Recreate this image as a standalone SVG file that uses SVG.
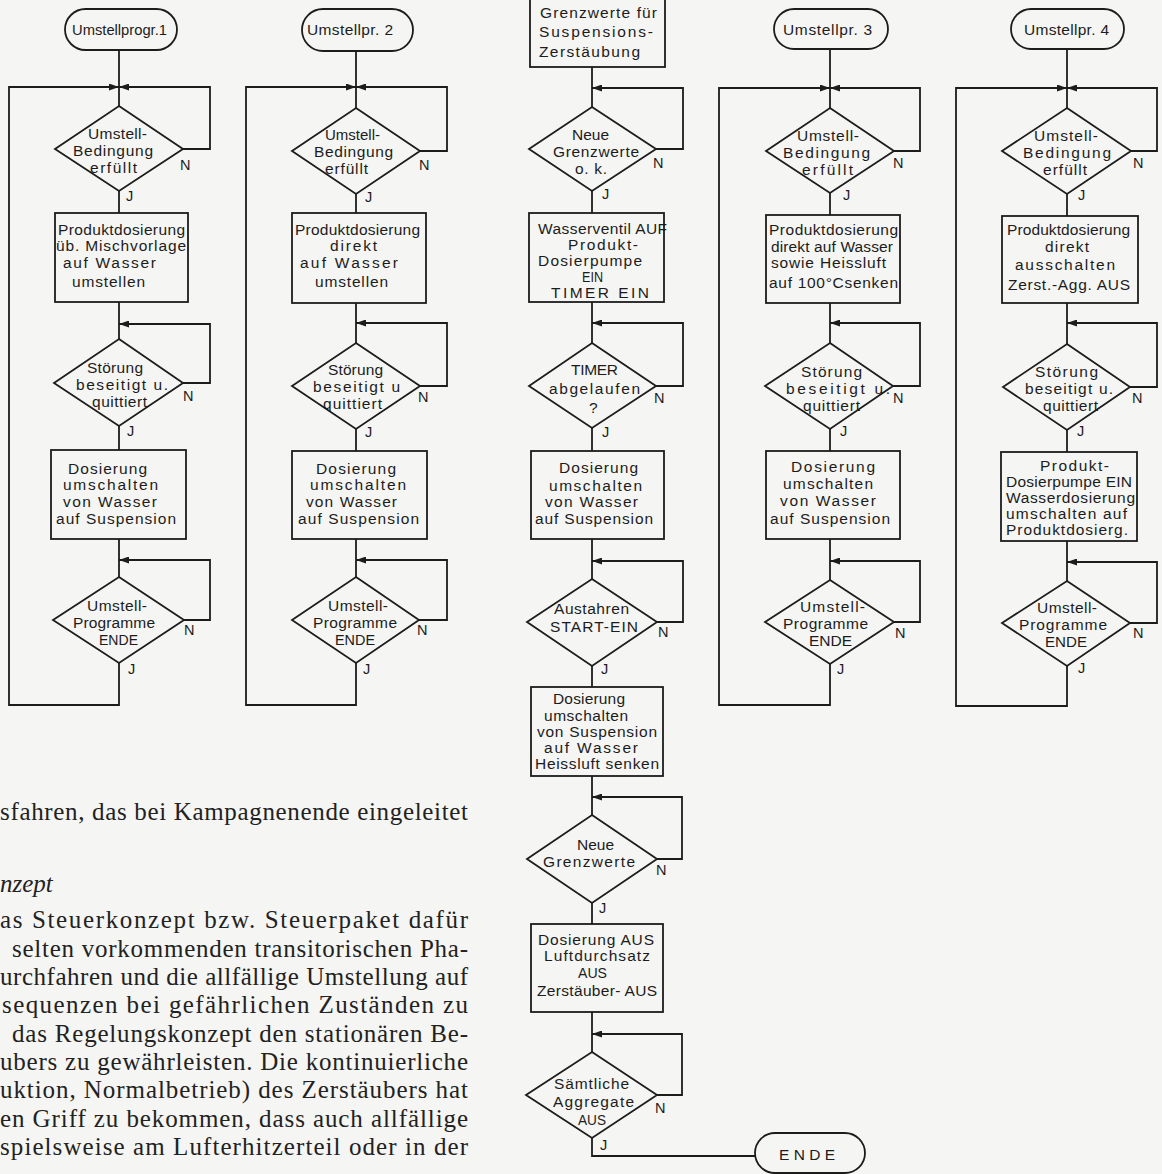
<svg xmlns="http://www.w3.org/2000/svg" width="1162" height="1174" viewBox="0 0 1162 1174">
<style>
.s{fill:none;stroke:#1c1c1c;stroke-width:1.8}
.c{fill:none;stroke:#1c1c1c;stroke-width:1.8}
.t{font-family:"Liberation Sans",Arial,sans-serif;font-size:15.5px;fill:#1c1c1c}
.l{font-family:"Liberation Sans",Arial,sans-serif;font-size:14.5px;fill:#1c1c1c}
.b{font-family:"Liberation Serif","Times New Roman",serif;font-size:25px;fill:#222}
.i{font-style:italic}
</style>
<defs>
<marker id="ah" viewBox="0 0 10 7" refX="10" refY="3.5" markerWidth="10" markerHeight="7" orient="auto" markerUnits="userSpaceOnUse"><path d="M0,0 L10,3.5 L0,7 z" fill="#1c1c1c"/></marker>
</defs>
<rect x="0" y="0" width="1162" height="1174" fill="#f5f5f3"/>

<g id="connectors">
<!-- column 1 -->
<path class="c" d="M119,50 V106"/>
<path class="c" d="M183,149 H210 V87 H119" marker-end="url(#ah)"/>
<path class="c" d="M119,191 V213"/>
<path class="c" d="M119,302 V339"/>
<path class="c" d="M183,383 H210 V324 H119" marker-end="url(#ah)"/>
<path class="c" d="M119,426 V450"/>
<path class="c" d="M119,539 V577"/>
<path class="c" d="M184,620 H210 V560 H119" marker-end="url(#ah)"/>
<path class="c" d="M119,663 V705 H9 V87 H119" marker-end="url(#ah)"/>
<!-- column 2 -->
<path class="c" d="M356,51 V108"/>
<path class="c" d="M420,151 H447 V87 H356" marker-end="url(#ah)"/>
<path class="c" d="M356,194 V213"/>
<path class="c" d="M356,303 V343"/>
<path class="c" d="M420,386 H447 V323 H356" marker-end="url(#ah)"/>
<path class="c" d="M356,429 V451"/>
<path class="c" d="M356,539 V577"/>
<path class="c" d="M419,620 H447 V560 H356" marker-end="url(#ah)"/>
<path class="c" d="M356,663 V705 H246 V87 H356" marker-end="url(#ah)"/>
<!-- middle column -->
<path class="c" d="M592,67 V107"/>
<path class="c" d="M656,149 H683 V88 H592" marker-end="url(#ah)"/>
<path class="c" d="M592,191 V213"/>
<path class="c" d="M592,302 V343"/>
<path class="c" d="M656,386 H683 V323 H592" marker-end="url(#ah)"/>
<path class="c" d="M592,428 V451"/>
<path class="c" d="M592,539 V579"/>
<path class="c" d="M657,622 H683 V561 H592" marker-end="url(#ah)"/>
<path class="c" d="M592,666 V687"/>
<path class="c" d="M592,776 V815"/>
<path class="c" d="M657,859 H682 V797 H592" marker-end="url(#ah)"/>
<path class="c" d="M592,903 V924"/>
<path class="c" d="M592,1012 V1052"/>
<path class="c" d="M657,1095 H682 V1034 H592" marker-end="url(#ah)"/>
<path class="c" d="M592,1138 V1156 H755"/>
<!-- column 3 -->
<path class="c" d="M830,49 V108"/>
<path class="c" d="M894,151 H920 V88 H830" marker-end="url(#ah)"/>
<path class="c" d="M830,193 V215"/>
<path class="c" d="M830,303 V343"/>
<path class="c" d="M893,386 H920 V323 H830" marker-end="url(#ah)"/>
<path class="c" d="M830,429 V451"/>
<path class="c" d="M830,539 V580"/>
<path class="c" d="M894,622 H920 V561 H830" marker-end="url(#ah)"/>
<path class="c" d="M830,664 V705 H719 V88 H830" marker-end="url(#ah)"/>
<!-- column 4 -->
<path class="c" d="M1067,49 V108"/>
<path class="c" d="M1131,151 H1157 V88 H1067" marker-end="url(#ah)"/>
<path class="c" d="M1067,194 V216"/>
<path class="c" d="M1067,303 V344"/>
<path class="c" d="M1130,387 H1157 V323 H1067" marker-end="url(#ah)"/>
<path class="c" d="M1067,430 V452"/>
<path class="c" d="M1067,541 V581"/>
<path class="c" d="M1130,623 H1157 V562 H1067" marker-end="url(#ah)"/>
<path class="c" d="M1067,666 V706 H956 V88 H1067" marker-end="url(#ah)"/>
</g>

<!-- ===== Column 1 ===== -->
<g id="c1-start"><rect class="s" x="65" y="9" width="112" height="41" rx="20.5"/><text class="t" x="72" y="35" textLength="95" lengthAdjust="spacingAndGlyphs">Umstellprogr.1</text></g>
<g id="c1-d1"><polygon class="s" points="119,106 183,149 119,191 55,149"/>
<text class="t" x="88" y="139" textLength="59">Umstell-</text><text class="t" x="73" y="156" textLength="80">Bedingung</text><text class="t" x="90" y="173" textLength="47">erfüllt</text>
<text class="l" x="180" y="170">N</text><text class="l" x="126" y="201">J</text></g>
<g id="c1-b1"><rect class="s" x="55" y="213" width="133" height="89"/>
<text class="t" x="58" y="235" textLength="127">Produktdosierung</text><text class="t" x="56" y="251" textLength="130">üb. Mischvorlage</text><text class="t" x="63" y="268" textLength="93">auf Wasser</text><text class="t" x="72" y="287" textLength="73">umstellen</text></g>
<g id="c1-d2"><polygon class="s" points="119,339 183,383 119,426 54,383"/>
<text class="t" x="87" y="373" textLength="56">Störung</text><text class="t" x="76" y="390" textLength="92">beseitigt u.</text><text class="t" x="92" y="407" textLength="55">quittiert</text>
<text class="l" x="183" y="401">N</text><text class="l" x="127" y="436">J</text></g>
<g id="c1-b2"><rect class="s" x="51" y="450" width="135" height="89"/>
<text class="t" x="68" y="474" textLength="79">Dosierung</text><text class="t" x="63" y="490" textLength="95">umschalten</text><text class="t" x="63" y="507" textLength="94">von Wasser</text><text class="t" x="56" y="524" textLength="120">auf Suspension</text></g>
<g id="c1-d3"><polygon class="s" points="119,577 184,620 119,663 53,620"/>
<text class="t" x="87" y="611" textLength="60">Umstell-</text><text class="t" x="73" y="628" textLength="82">Programme</text><text class="t" x="99" y="645" textLength="39" lengthAdjust="spacingAndGlyphs">ENDE</text>
<text class="l" x="184" y="635">N</text><text class="l" x="128" y="674">J</text></g>

<!-- ===== Column 2 ===== -->
<g id="c2-start"><rect class="s" x="302" y="9" width="111" height="42" rx="21"/><text class="t" x="307" y="35" textLength="86">Umstellpr. 2</text></g>
<g id="c2-d1"><polygon class="s" points="356,108 420,151 356,194 292,151"/>
<text class="t" x="325" y="140" textLength="55" lengthAdjust="spacingAndGlyphs">Umstell-</text><text class="t" x="314" y="157" textLength="79">Bedingung</text><text class="t" x="325" y="174" textLength="43">erfüllt</text>
<text class="l" x="419" y="170">N</text><text class="l" x="365" y="202">J</text></g>
<g id="c2-b1"><rect class="s" x="292" y="213" width="134" height="90"/>
<text class="t" x="295" y="235" textLength="125">Produktdosierung</text><text class="t" x="330" y="251" textLength="47">direkt</text><text class="t" x="300" y="268" textLength="98">auf Wasser</text><text class="t" x="315" y="287" textLength="73">umstellen</text></g>
<g id="c2-d2"><polygon class="s" points="356,343 420,386 356,429 292,386"/>
<text class="t" x="328" y="375" textLength="55">Störung</text><text class="t" x="313" y="392" textLength="87">beseitigt u</text><text class="t" x="323" y="409" textLength="59">quittiert</text>
<text class="l" x="418" y="402">N</text><text class="l" x="365" y="437">J</text></g>
<g id="c2-b2"><rect class="s" x="292" y="451" width="135" height="88"/>
<text class="t" x="316" y="474" textLength="80">Dosierung</text><text class="t" x="310" y="490" textLength="96">umschalten</text><text class="t" x="306" y="507" textLength="91">von Wasser</text><text class="t" x="298" y="524" textLength="121">auf Suspension</text></g>
<g id="c2-d3"><polygon class="s" points="356,577 419,620 356,663 292,620"/>
<text class="t" x="328" y="611" textLength="60">Umstell-</text><text class="t" x="313" y="628" textLength="84">Programme</text><text class="t" x="335" y="645" textLength="40" lengthAdjust="spacingAndGlyphs">ENDE</text>
<text class="l" x="417" y="635">N</text><text class="l" x="363" y="674">J</text></g>

<!-- ===== Middle column ===== -->
<g id="m-b1"><rect class="s" x="530" y="-10" width="135" height="77"/>
<text class="t" x="540" y="18" textLength="117">Grenzwerte für</text><text class="t" x="539" y="37" textLength="114">Suspensions-</text><text class="t" x="539" y="57" textLength="101">Zerstäubung</text></g>
<g id="m-d1"><polygon class="s" points="592,107 656,149 592,191 529,149"/>
<text class="t" x="572" y="140" textLength="37">Neue</text><text class="t" x="553" y="157" textLength="86">Grenzwerte</text><text class="t" x="575" y="174" textLength="32">o. k.</text>
<text class="l" x="653" y="168">N</text><text class="l" x="602" y="199">J</text></g>
<g id="m-b2"><rect class="s" x="529" y="213" width="135" height="89"/>
<text class="t" x="538" y="234" textLength="129">Wasserventil AUF</text><text class="t" x="568" y="250" textLength="70">Produkt-</text><text class="t" x="538" y="266" textLength="104">Dosierpumpe</text><text class="t" x="582" y="282" textLength="21" lengthAdjust="spacingAndGlyphs">EIN</text><text class="t" x="551" y="298" textLength="98">TIMER  EIN</text></g>
<g id="m-d2"><polygon class="s" points="592,343 656,386 592,428 529,386"/>
<text class="t" x="571" y="375" textLength="47">TIMER</text><text class="t" x="549" y="394" textLength="91">abgelaufen</text><text class="t" x="589" y="413">?</text>
<text class="l" x="654" y="403">N</text><text class="l" x="602" y="437">J</text></g>
<g id="m-b3"><rect class="s" x="531" y="451" width="133" height="88"/>
<text class="t" x="559" y="473" textLength="79">Dosierung</text><text class="t" x="549" y="491" textLength="93">umschalten</text><text class="t" x="545" y="507" textLength="93">von Wasser</text><text class="t" x="535" y="524" textLength="118">auf Suspension</text></g>
<g id="m-d3"><polygon class="s" points="592,579 657,622 592,666 527,622"/>
<text class="t" x="554" y="614" textLength="75">Austahren</text><text class="t" x="550" y="632" textLength="88">START-EIN</text>
<text class="l" x="658" y="637">N</text><text class="l" x="601" y="674">J</text></g>
<g id="m-b4"><rect class="s" x="531" y="687" width="132" height="89"/>
<text class="t" x="553" y="704" textLength="72">Dosierung</text><text class="t" x="544" y="721" textLength="84">umschalten</text><text class="t" x="537" y="737" textLength="120">von Suspension</text><text class="t" x="544" y="753" textLength="94">auf Wasser</text><text class="t" x="535" y="769" textLength="124">Heissluft senken</text></g>
<g id="m-d4"><polygon class="s" points="592,815 657,859 592,903 527,859"/>
<text class="t" x="577" y="850" textLength="37">Neue</text><text class="t" x="543" y="867" textLength="92">Grenzwerte</text>
<text class="l" x="656" y="875">N</text><text class="l" x="599" y="913">J</text></g>
<g id="m-b5"><rect class="s" x="531" y="924" width="132" height="88"/>
<text class="t" x="538" y="945" textLength="116">Dosierung AUS</text><text class="t" x="544" y="961" textLength="106">Luftdurchsatz</text><text class="t" x="578" y="978" textLength="29" lengthAdjust="spacingAndGlyphs">AUS</text><text class="t" x="537" y="996" textLength="120">Zerstäuber- AUS</text></g>
<g id="m-d5"><polygon class="s" points="592,1052 657,1095 592,1138 526,1095"/>
<text class="t" x="554" y="1089" textLength="75">Sämtliche</text><text class="t" x="553" y="1107" textLength="81">Aggregate</text><text class="t" x="578" y="1125" textLength="28" lengthAdjust="spacingAndGlyphs">AUS</text>
<text class="l" x="655" y="1113">N</text><text class="l" x="600" y="1150">J</text></g>
<g id="m-end"><rect class="s" x="755" y="1133" width="110" height="40" rx="20"/><text class="t" x="779" y="1160" textLength="56">ENDE</text></g>

<!-- ===== Column 3 ===== -->
<g id="c3-start"><rect class="s" x="774" y="9" width="114" height="40" rx="20"/><text class="t" x="783" y="35" textLength="89">Umstellpr. 3</text></g>
<g id="c3-d1"><polygon class="s" points="830,108 894,151 830,193 766,151"/>
<text class="t" x="797" y="141" textLength="62">Umstell-</text><text class="t" x="783" y="158" textLength="87">Bedingung</text><text class="t" x="802" y="175" textLength="51">erfüllt</text>
<text class="l" x="893" y="168">N</text><text class="l" x="843" y="200">J</text></g>
<g id="c3-b1"><rect class="s" x="766" y="215" width="134" height="88"/>
<text class="t" x="769" y="235" textLength="129">Produktdosierung</text><text class="t" x="771" y="252" textLength="122">direkt auf Wasser</text><text class="t" x="771" y="268" textLength="115">sowie Heissluft</text><text class="t" x="769" y="288" textLength="129">auf  100°Csenken</text></g>
<g id="c3-d2"><polygon class="s" points="830,343 893,386 830,429 765,386"/>
<text class="t" x="801" y="377" textLength="61">Störung</text><text class="t" x="786" y="394" textLength="104">beseitigt u.</text><text class="t" x="803" y="411" textLength="57">quittiert</text>
<text class="l" x="893" y="403">N</text><text class="l" x="840" y="436">J</text></g>
<g id="c3-b2"><rect class="s" x="766" y="451" width="134" height="88"/>
<text class="t" x="791" y="472" textLength="84">Dosierung</text><text class="t" x="783" y="489" textLength="90">umschalten</text><text class="t" x="780" y="506" textLength="96">von Wasser</text><text class="t" x="770" y="524" textLength="120">auf Suspension</text></g>
<g id="c3-d3"><polygon class="s" points="830,580 894,622 830,664 765,622"/>
<text class="t" x="800" y="612" textLength="65">Umstell-</text><text class="t" x="783" y="629" textLength="85">Programme</text><text class="t" x="809" y="646" textLength="43">ENDE</text>
<text class="l" x="895" y="638">N</text><text class="l" x="837" y="674">J</text></g>

<!-- ===== Column 4 ===== -->
<g id="c4-start"><rect class="s" x="1011" y="9" width="113" height="40" rx="20"/><text class="t" x="1024" y="35" textLength="85">Umstellpr. 4</text></g>
<g id="c4-d1"><polygon class="s" points="1067,108 1131,151 1067,194 1002,151"/>
<text class="t" x="1034" y="141" textLength="64">Umstell-</text><text class="t" x="1023" y="158" textLength="88">Bedingung</text><text class="t" x="1043" y="175" textLength="44">erfüllt</text>
<text class="l" x="1133" y="168">N</text><text class="l" x="1078" y="200">J</text></g>
<g id="c4-b1"><rect class="s" x="1002" y="216" width="136" height="87"/>
<text class="t" x="1007" y="235" textLength="123">Produktdosierung</text><text class="t" x="1045" y="252" textLength="44">direkt</text><text class="t" x="1015" y="270" textLength="100">ausschalten</text><text class="t" x="1008" y="290" textLength="122">Zerst.-Agg. AUS</text></g>
<g id="c4-d2"><polygon class="s" points="1067,344 1130,387 1067,430 1003,387"/>
<text class="t" x="1035" y="377" textLength="63">Störung</text><text class="t" x="1025" y="394" textLength="88">beseitigt u.</text><text class="t" x="1043" y="411" textLength="55">quittiert</text>
<text class="l" x="1132" y="403">N</text><text class="l" x="1077" y="436">J</text></g>
<g id="c4-b2"><rect class="s" x="1001" y="452" width="136" height="89"/>
<text class="t" x="1040" y="471" textLength="69">Produkt-</text><text class="t" x="1006" y="487" textLength="126">Dosierpumpe EIN</text><text class="t" x="1006" y="503" textLength="129">Wasserdosierung</text><text class="t" x="1006" y="519" textLength="121">umschalten auf</text><text class="t" x="1006" y="535" textLength="122">Produktdosierg.</text></g>
<g id="c4-d3"><polygon class="s" points="1067,581 1130,623 1067,666 1002,623"/>
<text class="t" x="1037" y="613" textLength="60">Umstell-</text><text class="t" x="1019" y="630" textLength="88">Programme</text><text class="t" x="1045" y="647" textLength="42" lengthAdjust="spacingAndGlyphs">ENDE</text>
<text class="l" x="1133" y="638">N</text><text class="l" x="1078" y="673">J</text></g>

<!-- ===== Body text ===== -->
<g id="body-text">
<text class="b" x="0" y="820" textLength="468">sfahren, das bei Kampagnenende eingeleitet</text>
<text class="b i" x="0" y="892">nzept</text>
<text class="b" x="0" y="928" textLength="468">as Steuerkonzept bzw. Steuerpaket dafür</text>
<text class="b" x="12" y="956.5" textLength="456">selten vorkommenden transitorischen Pha-</text>
<text class="b" x="0" y="985" textLength="468">urchfahren und die allfällige Umstellung auf</text>
<text class="b" x="2" y="1013" textLength="466">sequenzen bei gefährlichen Zuständen zu</text>
<text class="b" x="12" y="1041.5" textLength="456">das Regelungskonzept den stationären Be-</text>
<text class="b" x="0" y="1070" textLength="468">ubers zu gewährleisten. Die kontinuierliche</text>
<text class="b" x="0" y="1098" textLength="468">uktion, Normalbetrieb) des Zerstäubers hat</text>
<text class="b" x="0" y="1126.5" textLength="468">en Griff zu bekommen, dass auch allfällige</text>
<text class="b" x="0" y="1155" textLength="468">spielsweise am Lufterhitzerteil oder in der</text>
</g>
</svg>
